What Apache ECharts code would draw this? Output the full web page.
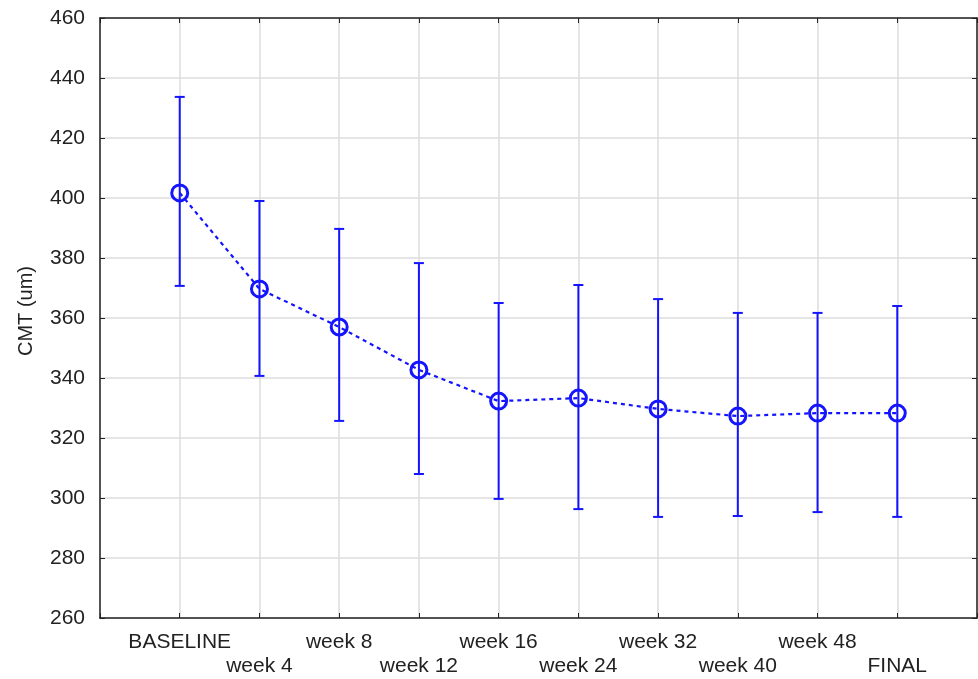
<!DOCTYPE html>
<html>
<head>
<meta charset="utf-8">
<script src="https://cdn.jsdelivr.net/npm/echarts@6/dist/echarts.min.js"></script>
<style>
  html, body { margin: 0; padding: 0; background: #fff; }
  #chart { width: 978px; height: 679px; }
</style>
</head>
<body>
<div id="chart"></div>
<script>
// visit labels, means and error-bar limits
const visits = ['BASELINE', 'week 4', 'week 8', 'week 12', 'week 16', 'week 24', 'week 32', 'week 40', 'week 48', 'FINAL'];
const meanCMT = [401.7, 369.7, 357.0, 342.7, 332.3, 333.3, 329.7, 327.3, 328.3, 328.3];
const upperCMT = [433.7, 399.0, 389.7, 378.3, 365.0, 371.0, 366.3, 361.7, 361.7, 364.0];
const lowerCMT = [370.7, 340.7, 325.7, 308.0, 299.7, 296.3, 293.7, 294.0, 295.3, 293.7];

const BLUE = '#1414ff';
const GRID_GREY = '#dcdcdc';
const TEXT = '#222';
const FONT = 'Liberation Sans, Arial, sans-serif';

const chart = echarts.init(document.getElementById('chart'));

const lineData = meanCMT.map((v, i) => [i + 1, v]);
const barData = visits.map((_, i) => [i + 1, lowerCMT[i], upperCMT[i]]);

// staggered category labels: every second one drops to a second row
const labelFor = (val) => {
  const i = Math.round(val) - 1;
  if (i < 0 || i >= visits.length) return '';
  return i % 2 === 0 ? visits[i] : '\n' + visits[i];
};

const frameAxis = {
  axisLine: { show: true, onZero: false, lineStyle: { color: '#222', width: 1.5 } },
  axisTick: { show: true, inside: true, length: 5, lineStyle: { color: '#222' } }
};

const option = {
  animation: false,
  backgroundColor: '#fff',
  grid: { left: 100, right: 1, top: 18, bottom: 61, containLabel: false, outerBoundsMode: 'none' },
  xAxis: [
    {
      type: 'value', min: 0, max: 11, interval: 1,
      ...frameAxis,
      splitLine: { show: true, lineStyle: { color: GRID_GREY, width: 1.5 } },
      axisLabel: {
        color: TEXT, fontFamily: FONT, fontSize: 21,
        margin: 12, lineHeight: 24, formatter: labelFor,
        showMinLabel: true, showMaxLabel: true
      }
    },
    {
      type: 'value', position: 'top', min: 0, max: 11, interval: 1,
      ...frameAxis,
      axisLabel: { show: false }, splitLine: { show: false }
    }
  ],
  yAxis: [
    {
      type: 'value', min: 260, max: 460, interval: 20,
      name: 'CMT (um)', nameLocation: 'middle', nameRotate: 90, nameGap: 64,
      nameTextStyle: { color: TEXT, fontFamily: FONT, fontSize: 20, padding: [0, 0, 0, 14] },
      ...frameAxis,
      splitLine: { show: true, lineStyle: { color: GRID_GREY, width: 1.5 } },
      axisLabel: { color: TEXT, fontFamily: FONT, fontSize: 21, margin: 15 }
    },
    {
      type: 'value', position: 'right', min: 260, max: 460, interval: 20,
      ...frameAxis,
      axisLabel: { show: false }, splitLine: { show: false }
    }
  ],
  series: [
    {
      name: 'range',
      type: 'custom',
      xAxisIndex: 0, yAxisIndex: 0,
      data: barData,
      z: 3,
      renderItem: (params, api) => {
        const x = api.value(0);
        const lo = api.coord([x, api.value(1)]);
        const hi = api.coord([x, api.value(2)]);
        const cap = 5;
        const style = { stroke: BLUE, lineWidth: 2 };
        return {
          type: 'group',
          children: [
            { type: 'line', shape: { x1: lo[0], y1: lo[1], x2: hi[0], y2: hi[1] }, style },
            { type: 'line', shape: { x1: hi[0] - cap, y1: hi[1], x2: hi[0] + cap, y2: hi[1] }, style },
            { type: 'line', shape: { x1: lo[0] - cap, y1: lo[1], x2: lo[0] + cap, y2: lo[1] }, style }
          ]
        };
      }
    },
    {
      name: 'CMT',
      type: 'line',
      xAxisIndex: 0, yAxisIndex: 0,
      data: lineData,
      z: 4,
      symbol: 'circle',
      symbolSize: 16,
      showAllSymbol: true,
      lineStyle: { color: BLUE, width: 2.2, type: [4, 4] },
      itemStyle: { color: 'rgba(255,255,255,0)', borderColor: BLUE, borderWidth: 3 }
    }
  ]
};

chart.setOption(option);
</script>
</body>
</html>
